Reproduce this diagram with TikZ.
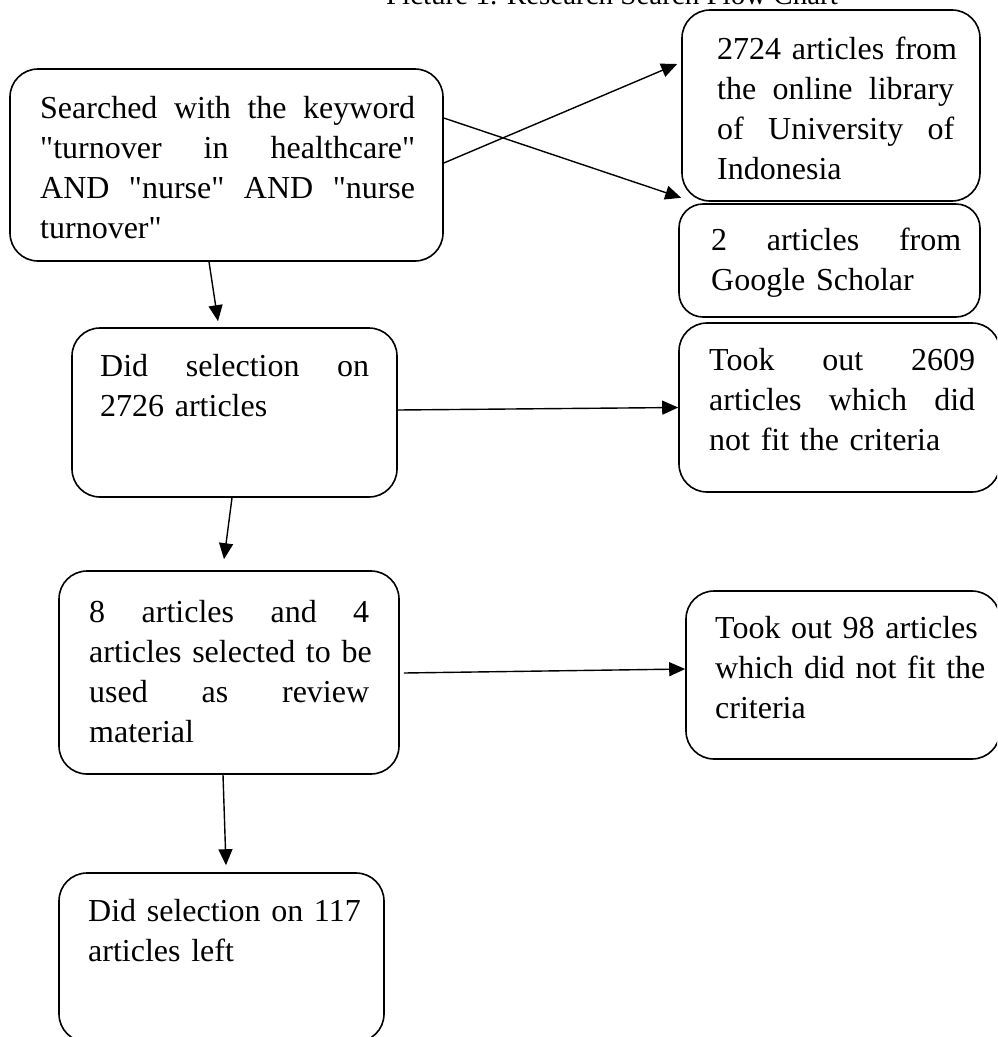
\documentclass[tikz,border=0pt]{standalone}
\usepackage{fontspec}
\setmainfont{Liberation Serif}
\usetikzlibrary{arrows.meta,calc}
\newcommand{\myq}{\textquotedbl}
\begin{document}
\begin{tikzpicture}[x=1pt,y=-1pt,
  box/.style={draw,line width=1.6pt,rounded corners=28pt,inner sep=0pt,minimum width=#1},
  txt/.style={anchor=base west,inner sep=0pt,align=left,font=\fontsize{32}{40}\selectfont},
  arr/.style={line width=1.4pt,-{Triangle[length=16pt,width=14pt]}}]
\useasboundingbox (0,0) rectangle (997,1037);
\clip (0,0) rectangle (997,1037);
% title
\node[anchor=base,inner sep=0pt,font=\fontsize{29}{35}\selectfont] (title) at (612,4) {Picture 1. Research Search Flow Chart};
% boxes
\node[box=433pt,minimum height=192pt] (A) at (226.5,165) {};
\node[box=298pt,minimum height=191pt] (B) at (831,105.5) {};
\node[box=301pt,minimum height=113pt,rounded corners=24pt] (C) at (829.5,260.5) {};
\node[box=321pt,minimum height=169pt] (D) at (839.5,407.5) {};
\node[box=325pt,minimum height=169pt] (E) at (234.5,412.5) {};
\node[box=340pt,minimum height=203pt] (F) at (229,672.5) {};
\node[box=314pt,minimum height=168pt] (G) at (843,675) {};
\node[box=325pt,minimum height=169pt] (H) at (221.5,957.5) {};
% texts
\node[txt,text width=375pt] (tA) at (40,118) {Searched\hfill with\hfill the\hfill keyword\\ \myq turnover\hfill in\hfill healthcare\myq\\ AND\hfill \myq nurse\myq\hfill AND\hfill \myq nurse\\ turnover\myq};
\node[txt,text width=237pt] (tB) at (717,59) {\mbox{2724 articles from}\\ the\hfill online\hfill library\\ of\hfill University\hfill of\\ Indonesia};
\node[txt,text width=250pt] (tC) at (711,250) {2\hfill articles\hfill from\\ Google Scholar};
\node[txt,text width=266pt] (tD) at (709,370) {Took\hfill out\hfill 2609\\ articles\hfill which\hfill did\\ not fit the criteria};
\node[txt,text width=269pt] (tE) at (100,376) {Did\hfill selection\hfill on\\ 2726 articles};
\node[txt,text width=280pt] (tF) at (89,622) {8\hfill articles\hfill and\hfill 4\\ \mbox{articles selected to be}\\ used\hfill as\hfill review\\ material};
\node[txt,text width=272pt] (tG) at (715,638) {\mbox{Took out 98 articles}\\ \mbox{which did not fit the}\\ criteria};
\node[txt,text width=267pt] (tH) at (88,921) {\mbox{Did selection on 117}\\ articles left};
% connectors
\draw[arr] ([yshift=2pt]A.east) -- ([xshift=-4pt,yshift=41.5pt]B.west);
\draw[arr] ([yshift=47pt]A.east) -- ([yshift=4pt]B.south west);
\draw[arr] ([xshift=-17.5pt]A.south) -- ([xshift=-16.5pt,yshift=6pt]E.north);
\draw[arr] ([yshift=2.5pt]E.east) -- (D.west);
\draw[arr] ([xshift=-2.5pt]E.south) -- ([xshift=-5pt,yshift=11pt]F.north);
\draw[arr] ([xshift=4pt,yshift=-0.5pt]F.east) -- ([yshift=6pt]G.west);
\draw[arr] ([xshift=-6pt]F.south) -- ([xshift=4.5pt,yshift=7pt]H.north);
\end{tikzpicture}
\end{document}
